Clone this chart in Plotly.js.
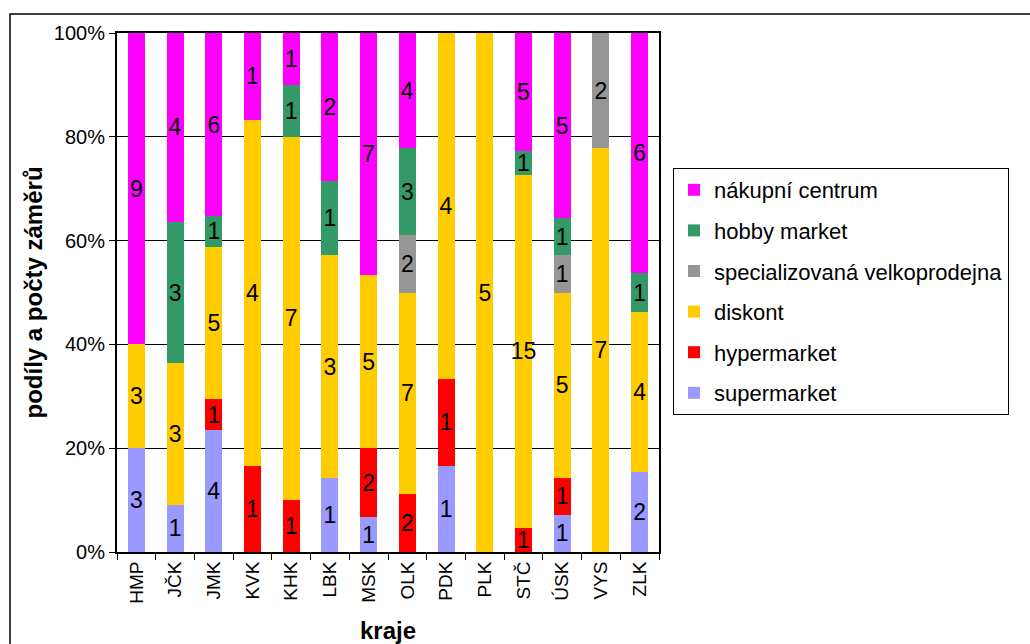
<!DOCTYPE html>
<html>
<head>
<meta charset="utf-8">
<script src="https://cdn.plot.ly/plotly-3.0.1.min.js"></script>
<style>html,body{margin:0;padding:0;background:#fff;}#chart{width:1030px;height:644px;}</style>
</head>
<body>
<div id="chart"></div>
<script>
const kraje = ['HMP','JČK','JMK','KVK','KHK','LBK','MSK','OLK','PDK','PLK','STČ','ÚSK','VYS','ZLK'];
const supermarket = [3,1,4,0,0,1,1,0,1,0,0,1,0,2];
const hypermarket = [0,0,1,1,1,0,2,2,1,0,1,1,0,0];
const diskont = [3,3,5,4,7,3,5,7,4,5,15,5,7,4];
const specializovana = [0,0,0,0,0,0,0,2,0,0,0,1,2,0];
const hobby = [0,3,1,0,1,1,0,3,0,0,1,1,0,1];
const nakupni = [9,4,6,1,1,2,7,4,0,0,5,5,0,6];

const seriesNames = ['supermarket','hypermarket','diskont','specializovaná velkoprodejna','hobby market','nákupní centrum'];
const seriesData = [supermarket, hypermarket, diskont, specializovana, hobby, nakupni];
const seriesColors = ['#9999FF','#FF0000','#FFCC00','#969696','#339966','#FF00FF'];

const FONT = 'Arial, "Liberation Sans", sans-serif';

const traces = seriesData.map((vals, i) => ({
  type: 'bar',
  name: seriesNames[i],
  x: kraje,
  y: vals,
  marker: {color: seriesColors[i], line: {width: 0}},
  text: vals.map(v => v ? String(v) : ''),
  textposition: 'inside',
  insidetextanchor: 'middle',
  textangle: 0,
  constraintext: 'none',
  textfont: {family: FONT, size: 23, color: '#000'},
  hoverinfo: 'x+y+name',
  legendgroup: 'g' + i,
  legendrank: seriesData.length - i
}));

// plot area in pixels: x 117..659, y 33..552
const L = 117, R = 659, T = 33, B = 552;
const px = v => (v - L) / (R - L);
const py = v => (B - v) / (B - T);

const layout = {
  width: 1030, height: 644,
  margin: {l: L, r: 1030 - R, t: T, b: 644 - B, pad: 0},
  paper_bgcolor: '#fff', plot_bgcolor: '#fff',
  font: {family: FONT, size: 20, color: '#000'},
  barmode: 'stack',
  barnorm: 'percent',
  bargap: 0.56,
  showlegend: true,
  legend: {
    x: px(673), y: py(168), xanchor: 'left', yanchor: 'top',
    bgcolor: '#fff', bordercolor: '#000', borderwidth: 1,
    traceorder: 'grouped', tracegroupgap: 9,
    font: {family: FONT, size: 22, color: '#000'},
    itemclick: false
  },
  xaxis: {
    type: 'category',
    tickangle: -90,
    tickson: 'boundaries',
    ticks: 'outside', ticklen: 6, tickcolor: '#000', tickwidth: 1,
    showline: true, linecolor: '#000', linewidth: 2, mirror: true,
    showgrid: false,
    tickfont: {family: FONT, size: 19, color: '#000'},
    title: {text: 'kraje', font: {family: FONT, size: 24, color: '#000', weight: 'bold'}, standoff: 20},
    automargin: false
  },
  yaxis: {
    range: [0, 100], dtick: 20, ticksuffix: '%',
    ticks: 'outside', ticklen: 6, tickcolor: '#000', tickwidth: 1,
    showline: true, linecolor: '#000', linewidth: 2, mirror: true,
    showgrid: true, gridcolor: '#000', gridwidth: 1,
    zeroline: false,
    tickfont: {family: FONT, size: 20, color: '#000'},
    title: {text: 'podíly a počty záměrů', font: {family: FONT, size: 24, color: '#000', weight: 'bold'}, standoff: 4},
    automargin: false
  },
  shapes: [{
    type: 'rect', xref: 'paper', yref: 'paper', layer: 'below',
    x0: px(10), x1: px(1045), y0: py(660), y1: py(14),
    line: {color: '#000', width: 1.5}, fillcolor: 'rgba(0,0,0,0)'
  }]
};

Plotly.newPlot('chart', traces, layout, {displayModeBar: false, staticPlot: true});
</script>
</body>
</html>
